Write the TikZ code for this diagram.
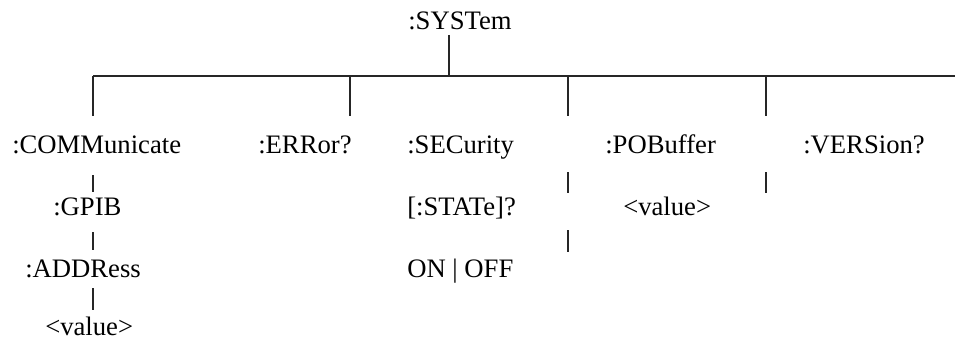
\documentclass[tikz,border=0pt]{standalone}
\usepackage{fontspec}
\setmainfont{Liberation Serif}
\begin{document}
\begin{tikzpicture}[x=0.75pt,y=-0.75pt,
  lbl/.style={anchor=base west,inner sep=0pt,font=\fontsize{20}{24}\selectfont},
  bus/.style={line width=1.3pt,color=black!85},
  tick/.style={line width=0.9pt,color=black!85}]
\useasboundingbox (0,0) rectangle (955,346);
% texts
\node[lbl] (sys) at (408,30) {:SYSTem};
\node[lbl] (comm) at (12,153) {:COMMunicate};
\node[lbl] (err) at (258,153) {:ERRor?};
\node[lbl] (sec) at (407,153) {:SECurity};
\node[lbl] (pob) at (605,153) {:POBuffer};
\node[lbl] (ver) at (803,153) {:VERSion?};
\node[lbl] (gpib) at (53,215) {:GPIB};
\node[lbl] (state) at (407,215) {[:STATe]?};
\node[lbl] (pval) at (623,215) {<value>};
\node[lbl] (addr) at (25,277) {:ADDRess};
\node[lbl] (onoff) at (407,277) {ON | OFF};
\node[lbl] (aval) at (45,335) {<value>};
% bus
\coordinate (bl) at (93,76);
\coordinate (br) at (955,76);
\coordinate (bs) at (449,76);
\coordinate (st) at (449,35);
\draw[bus] (bl) -- (br);
\draw[bus] (st) -- (bs);
\foreach \x/\n in {93/a,350/b,568/c,766/d}{
  \coordinate (t\n) at (\x,76);
  \coordinate (e\n) at (\x,116);
  \draw[bus] (t\n) -- (e\n);
}
% ticks
\foreach \x/\ya/\yb in {93/175/192,93/232/250,93/288/310,568/172/193,568/230/252,766/172/193}{
  \coordinate (p1) at (\x,\ya);
  \coordinate (p2) at (\x,\yb);
  \draw[tick] (p1) -- (p2);
}
\end{tikzpicture}
\end{document}
